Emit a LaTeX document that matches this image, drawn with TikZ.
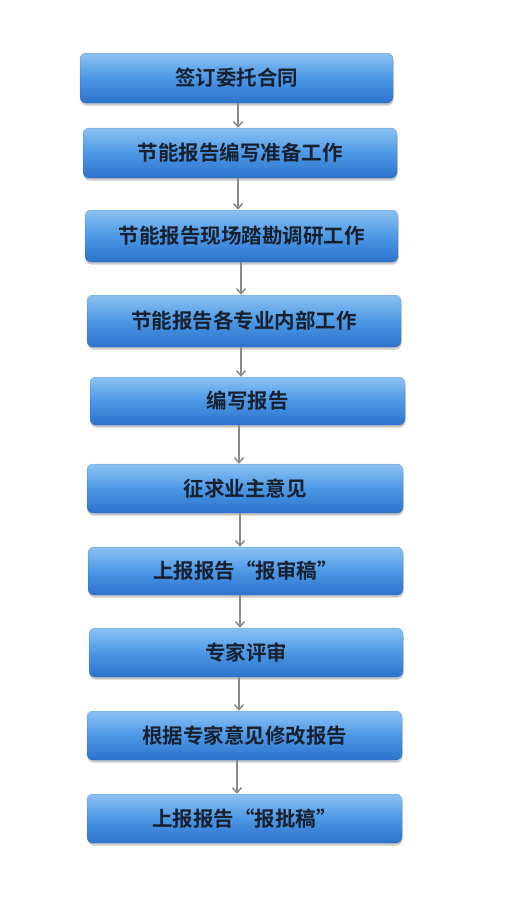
\documentclass[tikz,border=0pt]{standalone}
\usepackage{fontspec}
\setmainfont{Noto Sans CJK SC}
\newfontfamily\cjkb{Noto Sans CJK SC}[BoldFont={* Bold}]
\usetikzlibrary{shadows,arrows.meta}
\definecolor{boxtop}{HTML}{8CC2F2}
\definecolor{boxmid}{HTML}{4C98E6}
\definecolor{boxbot}{HTML}{2C72CC}
\definecolor{txt}{HTML}{16202E}
\definecolor{arr}{HTML}{8A8A8A}
\tikzset{
  stepbox/.style={rounded corners=6pt, minimum height=49pt, inner sep=0pt,
    top color=boxtop, bottom color=boxbot, middle color=boxmid,
    draw=boxbot!80!black, draw opacity=0.35, line width=0.5pt,
    drop shadow={shadow xshift=0.5pt, shadow yshift=-2.5pt, opacity=0.35, fill=black!60},
    font=\cjkb\bfseries\fontsize{20.5pt}{22pt}\selectfont, text=txt},
  flow/.style={draw=arr, line width=1.7pt, -{Straight Barb[length=5pt,width=9pt,line width=1.5pt]}}
}
\begin{document}
\begin{tikzpicture}[x=1pt,y=-1pt]
\useasboundingbox (0,0) rectangle (506,900);
\node[stepbox, minimum width=313pt, minimum height=50pt] (b1) at (236.5,78) {签订委托合同};
\node[stepbox, minimum width=314pt, minimum height=50pt] (b2) at (240,153) {节能报告编写准备工作};
\node[stepbox, minimum width=313pt, minimum height=52pt] (b3) at (241.5,236) {节能报告现场踏勘调研工作};
\node[stepbox, minimum width=314pt, minimum height=52pt] (b4) at (244,321) {节能报告各专业内部工作};
\node[stepbox, minimum width=315pt, minimum height=48pt] (b5) at (247.5,401) {编写报告};
\node[stepbox, minimum width=316pt] (b6) at (245,488.5) {征求业主意见};
\node[stepbox, minimum width=315pt, minimum height=48pt] (b7) at (245.5,571) {上报报告“报审稿”};
\node[stepbox, minimum width=314pt] (b8) at (246,652.5) {专家评审};
\node[stepbox, minimum width=315pt] (b9) at (244.5,735.5) {根据专家意见修改报告};
\node[stepbox, minimum width=315pt] (b10) at (244.5,818.5) {上报报告“报批稿”};
\draw[flow] (b1.south -| 238,0) -- (b2.north -| 238,0);
\draw[flow] (b2.south -| 238,0) -- (b3.north -| 238,0);
\draw[flow] (b3.south -| 241,0) -- (b4.north -| 241,0);
\draw[flow] (b4.south -| 241,0) -- (b5.north -| 241,0);
\draw[flow] (b5.south -| 239,0) -- (b6.north -| 239,0);
\draw[flow] (b6.south -| 240,0) -- (b7.north -| 240,0);
\draw[flow] (b7.south -| 240,0) -- (b8.north -| 240,0);
\draw[flow] (b8.south -| 239,0) -- (b9.north -| 239,0);
\draw[flow] (b9.south -| 237,0) -- (b10.north -| 237,0);
\end{tikzpicture}
\end{document}
